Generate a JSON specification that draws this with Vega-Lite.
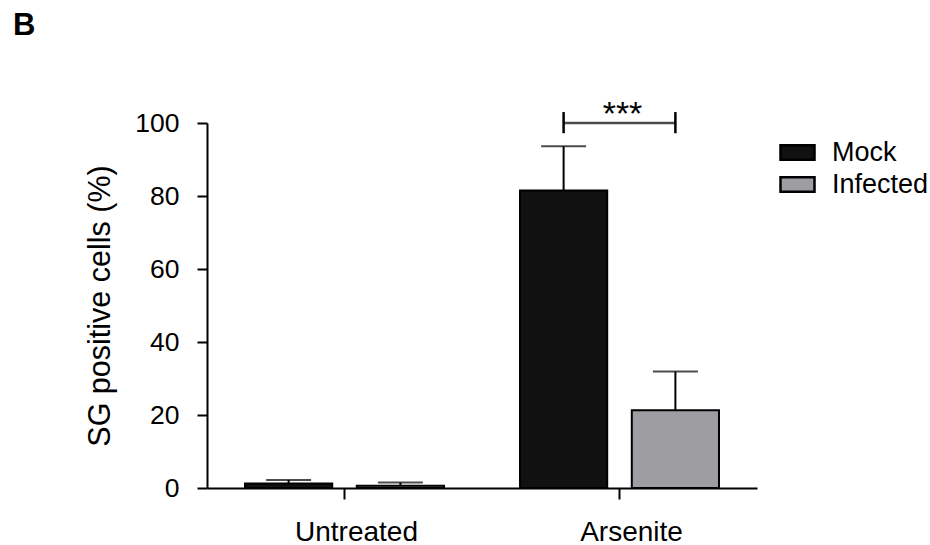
{
  "$schema": "https://vega.github.io/schema/vega-lite/v6.json",
  "width": 550,
  "height": 365,
  "autosize": "none",
  "padding": {"left": 207, "top": 123, "right": 173, "bottom": 57},
  "background": "white",
  "config": {
    "font": "Liberation Sans",
    "view": {"stroke": null},
    "axis": {"grid": false, "domainColor": "black", "tickColor": "black", "labelColor": "black", "titleColor": "black", "domainWidth": 2, "tickWidth": 2}
  },
  "title": {"text": "B", "anchor": "start", "frame": "group", "dx": -194, "offset": 56, "fontSize": 31, "fontWeight": "bold", "color": "black"},
  "datasets": {
    "bars": [
      {"group": "Untreated", "series": "Mock", "value": 1.2, "upper": 2.2},
      {"group": "Untreated", "series": "Infected", "value": 0.6, "upper": 1.5},
      {"group": "Arsenite", "series": "Mock", "value": 81.5, "upper": 93.6},
      {"group": "Arsenite", "series": "Infected", "value": 21.3, "upper": 31.9}
    ],
    "bracket": [
      {"group": "Arsenite", "series": "Mock"},
      {"group": "Arsenite", "series": "Infected"}
    ],
    "sig": [
      {"group": "Arsenite", "label": "***"}
    ]
  },
  "layer": [
    {
      "data": {"name": "bars"},
      "mark": {"type": "bar", "stroke": "black", "strokeWidth": 2},
      "encoding": {
        "x": {"field": "group", "type": "nominal", "sort": ["Untreated", "Arsenite"], "scale": {"paddingInner": 0, "paddingOuter": 0},
          "axis": {"title": null, "labelAngle": 0, "labelFontSize": 28, "labelPadding": 19, "labelOffset": 12, "tickSize": 11}},
        "xOffset": {"field": "series", "type": "nominal", "sort": ["Mock", "Infected"], "scale": {"paddingInner": 0.22, "paddingOuter": 0.34}},
        "y": {"field": "value", "type": "quantitative", "scale": {"domain": [0, 100], "nice": false},
          "axis": {"title": "SG positive cells (%)", "values": [0, 20, 40, 60, 80, 100], "labelFontSize": 26.5, "labelPadding": 18, "tickSize": 10, "titleFontSize": 30.5, "titleFontWeight": "normal", "titlePadding": 19}},
        "fill": {"field": "series", "type": "nominal", "sort": ["Mock", "Infected"],
          "scale": {"domain": ["Mock", "Infected"], "range": ["#111111", "#9e9ea2"]},
          "legend": {"title": null, "orient": "none", "legendX": 572, "legendY": 11, "symbolType": "M-1,-0.43H1V0.43H-1Z", "symbolSize": 1156, "symbolStrokeColor": "black", "symbolStrokeWidth": 2.5, "labelFontSize": 27, "labelColor": "black", "labelOffset": 16, "rowPadding": -5}}
      }
    },
    {
      "data": {"name": "bars"},
      "mark": {"type": "rule", "color": "black", "strokeWidth": 2},
      "encoding": {
        "x": {"field": "group", "type": "nominal", "sort": ["Untreated", "Arsenite"]},
        "xOffset": {"field": "series", "type": "nominal", "sort": ["Mock", "Infected"]},
        "y": {"field": "value", "type": "quantitative"},
        "y2": {"field": "upper"}
      }
    },
    {
      "data": {"name": "bars"},
      "mark": {"type": "tick", "color": "black", "size": 45, "thickness": 2, "orient": "horizontal"},
      "encoding": {
        "x": {"field": "group", "type": "nominal", "sort": ["Untreated", "Arsenite"]},
        "xOffset": {"field": "series", "type": "nominal", "sort": ["Mock", "Infected"]},
        "y": {"field": "upper", "type": "quantitative"}
      }
    },
    {
      "data": {"name": "bracket"},
      "mark": {"type": "rule", "color": "black", "strokeWidth": 2.5},
      "encoding": {
        "x": {"field": "group", "type": "nominal", "sort": ["Untreated", "Arsenite"]},
        "xOffset": {"field": "series", "type": "nominal", "sort": ["Mock", "Infected"]},
        "y": {"datum": 97.2},
        "y2": {"datum": 103}
      }
    },
    {
      "data": {"name": "sig"},
      "mark": {"type": "tick", "color": "black", "size": 113, "thickness": 2.5, "orient": "horizontal"},
      "encoding": {
        "x": {"field": "group", "type": "nominal", "sort": ["Untreated", "Arsenite"]},
        "y": {"datum": 100}
      }
    },
    {
      "data": {"name": "sig"},
      "mark": {"type": "text", "fontSize": 34, "color": "black", "baseline": "alphabetic", "dx": 3},
      "encoding": {
        "x": {"field": "group", "type": "nominal", "sort": ["Untreated", "Arsenite"]},
        "y": {"datum": 99.5},
        "text": {"field": "label"}
      }
    }
  ]
}
